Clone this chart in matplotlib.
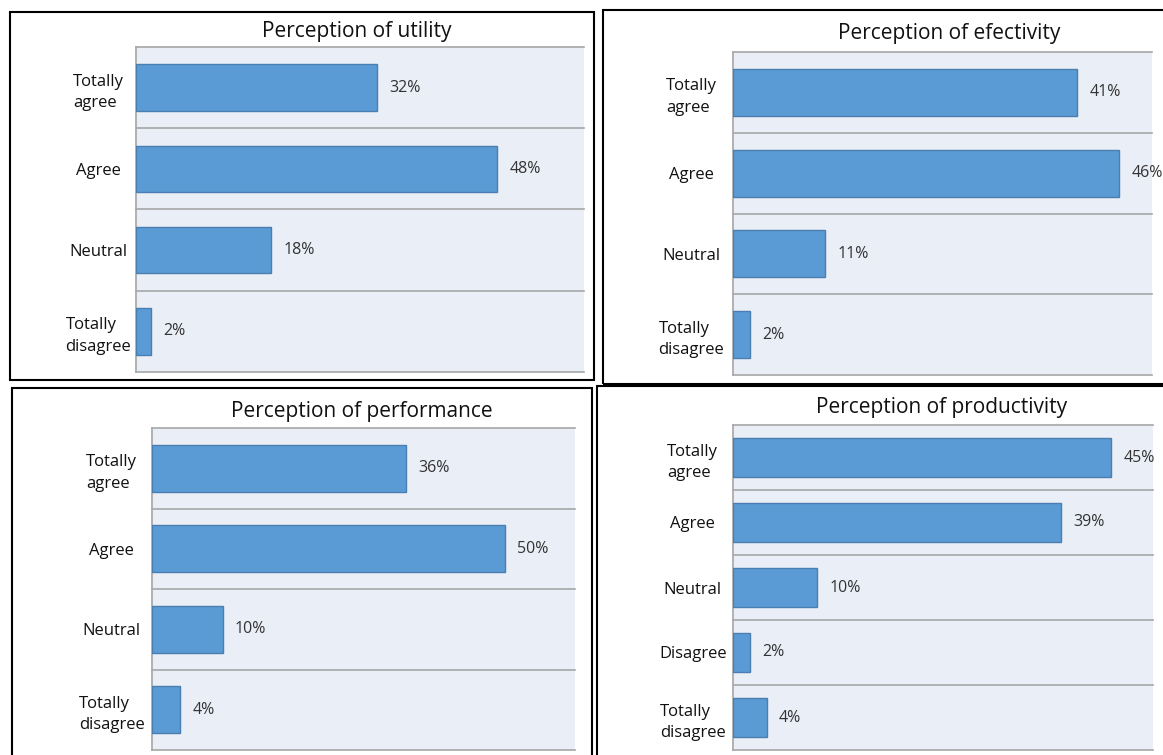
import matplotlib
matplotlib.use("Agg")
import matplotlib.pyplot as plt
from matplotlib.patches import Rectangle

plt.rcParams['font.family'] = ['Open Sans', 'DejaVu Sans']

# ---- data ----
utility_titles = "Perception of utility"
utility_cats = ["Totally\nagree", "Agree", "Neutral", "Totally\ndisagree"]
utility_vals = [32, 48, 18, 2]

efect_title = "Perception of efectivity"
efect_cats = ["Totally\nagree", "Agree", "Neutral", "Totally\ndisagree"]
efect_vals = [41, 46, 11, 2]

perf_title = "Perception of performance"
perf_cats = ["Totally\nagree", "Agree", "Neutral", "Totally\ndisagree"]
perf_vals = [36, 50, 10, 4]

prod_title = "Perception of productivity"
prod_cats = ["Totally\nagree", "Agree", "Neutral", "Disagree", "Totally\ndisagree"]
prod_vals = [45, 39, 10, 2, 4]

W, H = 1163, 755
fig = plt.figure(figsize=(W / 100, H / 100), dpi=100)
fig.patch.set_facecolor('white')

BAR = '#5B9BD5'
EDGE = '#4A7DB0'
BG = '#EAEEF7'
GRID = '#A6A6A6'


def px_rect(x0, y0, x1, y1):
    return [x0 / W, 1 - y1 / H, (x1 - x0) / W, (y1 - y0) / H]


def border(x0, y0, x1, y1):
    r = Rectangle((x0 / W, 1 - y1 / H), (x1 - x0) / W, (y1 - y0) / H,
                  transform=fig.transFigure, fill=False, edgecolor='black',
                  linewidth=1.5, zorder=10)
    fig.patches.append(r)


def panel(box, title, cats, vals, xmax, bar_h, pad, title_xy):
    ax = fig.add_axes(px_rect(*box))
    n = len(cats)
    y = list(range(n))
    ax.barh(y, vals, height=bar_h, color=BAR, edgecolor=EDGE, linewidth=1.0, zorder=3)
    ax.set_xlim(0, xmax)
    ax.set_ylim(n - 0.5, -0.5)
    ax.set_facecolor(BG)
    for b in range(n + 1):
        ax.axhline(b - 0.5, color=GRID, linewidth=1.2, zorder=2, clip_on=False)
    for s in ['top', 'right', 'bottom']:
        ax.spines[s].set_visible(False)
    ax.spines['left'].set_color(GRID)
    ax.spines['left'].set_linewidth(1.2)
    ax.set_xticks([])
    ax.set_yticks(y)
    ax.set_yticklabels(cats, fontsize=12, ha='center', multialignment='left',
                       color='#111111', linespacing=1.45)
    ax.tick_params(axis='y', length=0, pad=pad)
    for yi, v in zip(y, vals):
        ax.annotate(f"{v}%", (v, yi), xytext=(9, 0), textcoords='offset points',
                    ha='left', va='center', fontsize=11.5, color='#333333',
                    annotation_clip=False)
    tx, ty = title_xy
    fig.text(tx / W, 1 - ty / H, title, ha='center', va='center',
             fontsize=15, color='#111111')
    return ax


panel((136, 47, 584, 372), utility_titles, utility_cats, utility_vals, 59.6, 0.57, 27, (357, 31))
panel((733, 52, 1152, 375), efect_title, efect_cats, efect_vals, 49.9, 0.58, 30, (949, 34))
panel((152, 428, 575, 750), perf_title, perf_cats, perf_vals, 60.0, 0.58, 29, (362, 411))
panel((733, 425, 1153, 750), prod_title, prod_cats, prod_vals, 50.0, 0.6, 29, (942, 408))

border(10, 12, 594, 380)
border(603, 10, 1170, 384)
border(12, 388, 592, 760)
border(597, 386, 1170, 760)

fig.savefig('out.png', dpi=100, facecolor='white')
